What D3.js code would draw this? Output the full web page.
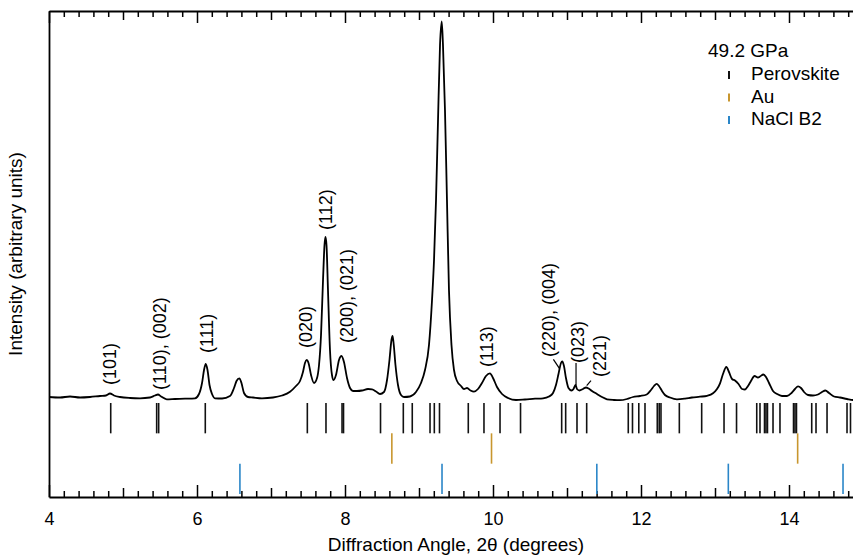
<!DOCTYPE html>
<html>
<head>
<meta charset="utf-8">
<script src="https://cdn.jsdelivr.net/npm/d3@7"></script>
<style>
  body { margin: 0; background: #fff; }
  text { font-family: "Liberation Sans", Arial, sans-serif; fill: #000; }
</style>
</head>
<body>
<script>
//diffraction pattern, 2theta in degrees
var twoTheta = [4.000, 4.149, 4.284, 4.419, 4.554, 4.689, 4.770, 4.824, 4.878, 4.959,
  5.095, 5.230, 5.365, 5.432, 5.473, 5.514, 5.591, 5.703, 5.838, 5.973,
  6.027, 6.068, 6.095, 6.118, 6.142, 6.169, 6.203, 6.243, 6.338, 6.446,
  6.500, 6.534, 6.572, 6.601, 6.635, 6.689, 6.757, 6.878, 7.027, 7.149,
  7.257, 7.338, 7.392, 7.432, 7.459, 7.482, 7.507, 7.541, 7.581, 7.622,
  7.649, 7.676, 7.703, 7.723, 7.736, 7.750, 7.770, 7.797, 7.824, 7.845,
  7.878, 7.919, 7.953, 7.986, 8.027, 8.068, 8.108, 8.162, 8.230, 8.311,
  8.365, 8.419, 8.473, 8.527, 8.568, 8.601, 8.628, 8.642, 8.655, 8.682,
  8.716, 8.757, 8.797, 8.878, 8.959, 9.027, 9.081, 9.135, 9.176, 9.203,
  9.230, 9.257, 9.284, 9.307, 9.324, 9.351, 9.378, 9.405, 9.439, 9.473,
  9.514, 9.568, 9.608, 9.649, 9.696, 9.743, 9.797, 9.851, 9.905, 9.959,
  10.000, 10.054, 10.122, 10.203, 10.311, 10.432, 10.568, 10.676, 10.757, 10.811,
  10.851, 10.885, 10.919, 10.936, 10.959, 10.986, 11.020, 11.061, 11.088, 11.115,
  11.135, 11.169, 11.216, 11.257, 11.291, 11.338, 11.405, 11.473, 11.541, 11.635,
  11.716, 11.811, 11.892, 11.986, 12.077, 12.135, 12.176, 12.212, 12.243, 12.284,
  12.324, 12.392, 12.486, 12.595, 12.689, 12.797, 12.892, 12.973, 13.027, 13.068,
  13.108, 13.153, 13.189, 13.230, 13.270, 13.318, 13.365, 13.405, 13.446, 13.486,
  13.534, 13.581, 13.608, 13.655, 13.689, 13.730, 13.784, 13.838, 13.905, 13.973,
  14.034, 14.081, 14.122, 14.162, 14.203, 14.257, 14.324, 14.392, 14.446, 14.491,
  14.541, 14.608, 14.689, 14.784, 14.865, 14.900];

//intensity, arbitrary units
var intensity = [0, -0.5, 0.5, -0.5, 0, 1, 1.5, 3.5, 1.5, 0,
  -1, -1.3, -0.5, 1.5, 2.5, 0.5, -2.3, -2, -1.7, -1.3,
  3, 14, 27, 33, 27, 12, 3, -1.3, -1.5, 1,
  9, 16, 18.7, 14, 4, 0, -0.5, -1.3, -0.5, 1.5,
  5.3, 11, 16, 25, 34, 37, 34, 22, 14, 19,
  32, 62, 117, 152, 160, 152, 107, 47, 22, 17,
  22, 37, 41, 35, 19, 9, 6, 6, 6.5, 8,
  7.7, 5.5, 3, 5, 17, 37, 57, 61, 55, 32,
  12, 2, 0, 0.5, 5, 14, 27, 52, 97, 137,
  197, 277, 352, 375.5, 352, 287, 197, 107, 52, 27,
  16, 11, 8, 9, 6.5, 5.3, 8, 14, 21, 23.7,
  19, 10, 3, -1, -3, -2.5, -1.7, -1.3, 0.5, 4,
  12, 23, 34, 35.5, 31, 19, 9, 6.5, 8, 12,
  8, 6.5, 8, 9.5, 8.5, 6, 3, 0, -2.3, -3,
  -3.2, -2, 0, 1, 2.5, 7, 11, 13.2, 11, 6,
  2, -0.5, -2.3, -1.6, -0.5, 0.3, 1.2, 3.7, 8, 13.7,
  23, 30, 25, 18, 16.5, 13, 8, 7.5, 11, 16,
  21, 19.5, 20.5, 22.5, 20, 14, 6, 3, 1, 1,
  4, 8, 10.7, 9, 5, 2, 1.5, 2.5, 5, 6.5,
  4, 0.5, -0.5, -2, -3, -3];

//reflection positions for each phase
var perovskiteTicks = [4.834, 5.455, 5.482, 6.112, 7.491, 7.743, 7.960, 7.980, 8.480, 8.788,
  8.909, 9.149, 9.207, 9.277, 9.666, 9.878, 10.095, 10.372, 10.928, 10.982,
  11.135, 11.266, 11.828, 11.885, 11.970, 12.054, 12.220, 12.246, 12.270, 12.518,
  12.820, 13.122, 13.291, 13.564, 13.608, 13.669, 13.689, 13.709, 13.784, 13.878,
  14.061, 14.081, 14.101, 14.307, 14.365, 14.514, 14.784, 14.831];
var auTicks = [8.633, 9.980, 14.117];
var naclTicks = [6.580, 9.311, 11.403, 13.180, 14.730];

var phases = ["Perovskite", "Au", "NaCl B2"];
var phaseColors = ["#111111", "#c8962e", "#2a86c8"];

//peak labels: text, 2theta, intensity at label foot
var peakLabels = ["(101)", "(110), (002)", "(111)", "(020)", "(112)", "(200), (021)", "(113)", "(220), (004)", "(023)", "(221)"];
var peakLabelTheta = [4.824, 5.493, 6.135, 7.473, 7.739, 8.023, 9.919, 10.750, 11.149, 11.439];
var peakLabelI = [12, 7, 44, 49, 167, 54, 30, 40, 34, 20];

//leader lines from label to peak
var leaderTheta1 = [10.816, 11.122, 11.324];
var leaderI1 = [37.7, 34, 16.3];
var leaderTheta2 = [10.897, 11.122, 11.266];
var leaderI2 = [28.7, 11.5, 11.3];

var xTickLabels = [4, 6, 8, 10, 12, 14];
var pressureLabel = "49.2 GPa";

//set size variables (avoid the name "top", it is window.top)
var width = 853, height = 555;
var plotLeft = 49, plotTop = 11, plotBottom = 497;

//create my scales
var x = d3.scaleLinear().domain([4, 14.9]).range([plotLeft, plotLeft + 10.9 * 74]);
var y = d3.scaleLinear().domain([-100, 386]).range([plotBottom, plotTop]);
var row = d3.scaleBand().domain(phases).range([403, 494]);
var color = d3.scaleOrdinal().domain(phases).range(phaseColors);

var svg = d3.select("body").append("svg")
    .attr("width", width)
    .attr("height", height);

//tick positions: minor every 0.2, medium on odd, major on even
var minorTicks = d3.range(21, 75).map(d => d / 5).filter(d => d % 1 !== 0);
var oddTicks = [5, 7, 9, 11, 13];

function addAxes(axisFn, ypos) {
    [[minorTicks, 6], [oddTicks, 9]].forEach(function(t) {
        svg.append("g")
            .attr("transform", "translate(0," + ypos + ")")
            .call(axisFn(x).tickValues(t[0]).tickSize(-t[1]).tickFormat(""))
            .call(g => g.select(".domain").remove())
            .selectAll("line").attr("stroke", "#000").attr("stroke-width", 1.5);
    });
}
addAxes(d3.axisBottom, plotBottom);
addAxes(d3.axisTop, plotTop);

//major ticks with labels on bottom
var bottomAxis = svg.append("g")
    .attr("transform", "translate(0," + plotBottom + ")")
    .call(d3.axisBottom(x).tickValues(xTickLabels).tickSize(-12).tickSizeOuter(0).tickPadding(15).tickFormat(d3.format("d")));
bottomAxis.selectAll("line").attr("stroke", "#000").attr("stroke-width", 1.5);
bottomAxis.select(".domain").attr("stroke", "#000").attr("stroke-width", 1.8);
bottomAxis.selectAll("text").attr("font-size", 18).attr("fill", "#000");

var topAxis = svg.append("g")
    .attr("transform", "translate(0," + plotTop + ")")
    .call(d3.axisTop(x).tickValues(xTickLabels).tickSize(-12).tickSizeOuter(0).tickFormat(""));
topAxis.selectAll("line").attr("stroke", "#000").attr("stroke-width", 1.5);
topAxis.select(".domain").attr("stroke", "#000").attr("stroke-width", 1.8);

//left frame
svg.append("g")
    .attr("transform", "translate(" + plotLeft + ",0)")
    .call(d3.axisLeft(y).tickValues([]).tickSizeOuter(0))
    .select(".domain").attr("stroke", "#000").attr("stroke-width", 1.8);

//axis titles
svg.append("text")
    .attr("x", 456)
    .attr("y", 551)
    .attr("text-anchor", "middle")
    .attr("font-size", 19)
    .text("Diffraction Angle, 2\u03B8 (degrees)");

svg.append("text")
    .attr("transform", "translate(22,254) rotate(-90)")
    .attr("text-anchor", "middle")
    .attr("font-size", 19)
    .text("Intensity (arbitrary units)");

//reflection markers
var phaseTicks = [perovskiteTicks, auTicks, naclTicks];
phases.forEach(function(p, i) {
    svg.append("g").selectAll("line")
        .data(phaseTicks[i])
        .enter().append("line")
        .attr("x1", d => x(d))
        .attr("x2", d => x(d))
        .attr("y1", row(p))
        .attr("y2", row(p) + row.bandwidth())
        .attr("stroke", color(p))
        .attr("stroke-width", 1.6);
});

//diffraction curve
var pattern = twoTheta.map((t, i) => ({t: t, v: intensity[i]}));
var line = d3.line()
    .x(d => x(d.t))
    .y(d => y(d.v))
    .curve(d3.curveMonotoneX);

svg.append("path")
    .datum(pattern)
    .attr("d", line)
    .attr("fill", "none")
    .attr("stroke", "#000")
    .attr("stroke-width", 1.8)
    .attr("stroke-linejoin", "round");

//peak labels
svg.append("g").selectAll("text")
    .data(peakLabels)
    .enter().append("text")
    .attr("transform", (d, i) => "translate(" + x(peakLabelTheta[i]) + "," + y(peakLabelI[i]) + ") rotate(-90)")
    .attr("dy", "0.35em")
    .attr("font-size", 18)
    .text(d => d);

//leader lines
svg.append("g").selectAll("line")
    .data(leaderTheta1)
    .enter().append("line")
    .attr("x1", (d, i) => x(d))
    .attr("y1", (d, i) => y(leaderI1[i]))
    .attr("x2", (d, i) => x(leaderTheta2[i]))
    .attr("y2", (d, i) => y(leaderI2[i]))
    .attr("stroke", "#000")
    .attr("stroke-width", 1.2);

//legend
svg.append("text")
    .attr("x", 708)
    .attr("y", 57)
    .attr("font-size", 19)
    .text(pressureLabel);

var legend = svg.append("g").selectAll("g")
    .data(phases)
    .enter().append("g")
    .attr("transform", (d, i) => "translate(729," + (80 + i * 22.5) + ")");
legend.append("line")
    .attr("y1", -9)
    .attr("y2", -1)
    .attr("stroke", d => color(d))
    .attr("stroke-width", 2);
legend.append("text")
    .attr("x", 22)
    .attr("font-size", 19)
    .text(d => d);
</script>
</body>
</html>
